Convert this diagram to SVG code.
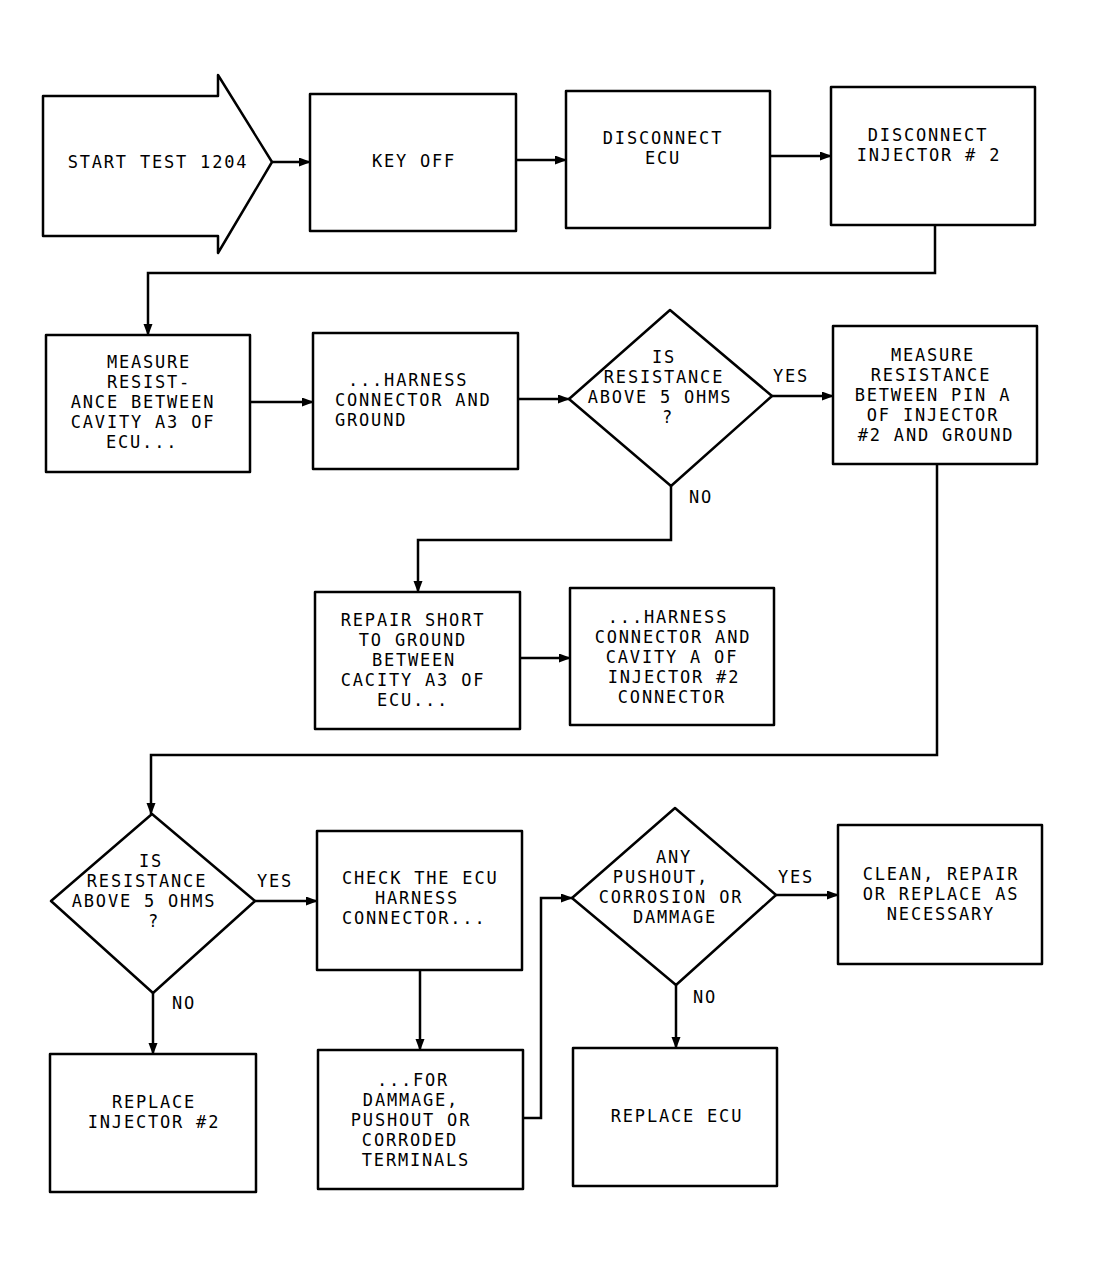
<svg xmlns="http://www.w3.org/2000/svg" width="1098" height="1275" viewBox="0 0 1098 1275">
<style>
.n{fill:#fff;stroke:#000;stroke-width:2.5;stroke-linejoin:round}
.c{fill:none;stroke:#000;stroke-width:2.5}
text{font-family:"DejaVu Sans Mono","Liberation Mono",monospace;font-size:17px;letter-spacing:1.8px;fill:#000}
.m{text-anchor:middle}
</style>
<defs>
<marker id="ah" markerUnits="userSpaceOnUse" markerWidth="12" markerHeight="10" refX="11" refY="4.5" orient="auto">
<path d="M0,0 L12,4.5 L0,9 z" fill="#000"/>
</marker>
</defs>
<rect width="1098" height="1275" fill="#fff"/>
<g id="connectors">
<path class="c" d="M272,162 H310" marker-end="url(#ah)"/>
<path class="c" d="M516,160 H566" marker-end="url(#ah)"/>
<path class="c" d="M770,156 H831" marker-end="url(#ah)"/>
<path class="c" d="M935,225 V273 H148 V335" marker-end="url(#ah)"/>
<path class="c" d="M250,402 H313" marker-end="url(#ah)"/>
<path class="c" d="M518,399 H569" marker-end="url(#ah)"/>
<path class="c" d="M772,396 H833" marker-end="url(#ah)"/>
<path class="c" d="M671,486 V540 H418 V592" marker-end="url(#ah)"/>
<path class="c" d="M520,658 H570" marker-end="url(#ah)"/>
<path class="c" d="M937,464 V755 H151 V814" marker-end="url(#ah)"/>
<path class="c" d="M255,901 H317" marker-end="url(#ah)"/>
<path class="c" d="M153,993 V1054" marker-end="url(#ah)"/>
<path class="c" d="M420,970 V1050" marker-end="url(#ah)"/>
<path class="c" d="M523,1118 H541 V898 H572" marker-end="url(#ah)"/>
<path class="c" d="M776,895 H838" marker-end="url(#ah)"/>
<path class="c" d="M676,985 V1048" marker-end="url(#ah)"/>
<text x="791" y="382" class="m">YES</text>
<text x="689" y="503">NO</text>
<text x="275" y="887" class="m">YES</text>
<text x="172" y="1009">NO</text>
<text x="796" y="883" class="m">YES</text>
<text x="693" y="1003">NO</text>
</g>
<g id="start">
<polygon class="n" points="43,96 218,96 218,75 272,162 218,253 218,236 43,236"/>
<text x="158" y="168" class="m">START TEST 1204</text>
</g>
<g id="keyoff">
<rect class="n" x="310" y="94" width="206" height="137"/>
<text x="414" y="167" class="m">KEY OFF</text>
</g>
<g id="discecu">
<rect class="n" x="566" y="91" width="204" height="137"/>
<text x="663" y="144" class="m">DISCONNECT</text>
<text x="663" y="164" class="m">ECU</text>
</g>
<g id="discinj">
<rect class="n" x="831" y="87" width="204" height="138"/>
<text x="928" y="141" class="m">DISCONNECT</text>
<text x="929" y="161" class="m">INJECTOR # 2</text>
</g>
<g id="measure1">
<rect class="n" x="46" y="335" width="204" height="137"/>
<text x="149" y="368" class="m">MEASURE</text>
<text x="149" y="388" class="m">RESIST-</text>
<text x="143" y="408" class="m">ANCE BETWEEN</text>
<text x="143" y="428" class="m">CAVITY A3 OF</text>
<text x="106" y="448">ECU...</text>
</g>
<g id="harness1">
<rect class="n" x="313" y="333" width="205" height="136"/>
<text x="348" y="386">...HARNESS</text>
<text x="335" y="406">CONNECTOR AND</text>
<text x="335" y="426">GROUND</text>
</g>
<g id="decision1">
<polygon class="n" points="670,310 772,396 671,486 569,399"/>
<text x="664" y="363" class="m">IS</text>
<text x="664" y="383" class="m">RESISTANCE</text>
<text x="660" y="403" class="m">ABOVE 5 OHMS</text>
<text x="668" y="423" class="m">?</text>
</g>
<g id="measure2">
<rect class="n" x="833" y="326" width="204" height="138"/>
<text x="933" y="361" class="m">MEASURE</text>
<text x="931" y="381" class="m">RESISTANCE</text>
<text x="933" y="401" class="m">BETWEEN PIN A</text>
<text x="933" y="421" class="m">OF INJECTOR</text>
<text x="936" y="441" class="m">#2 AND GROUND</text>
</g>
<g id="repair">
<rect class="n" x="315" y="592" width="205" height="137"/>
<text x="413" y="626" class="m">REPAIR SHORT</text>
<text x="413" y="646" class="m">TO GROUND</text>
<text x="414" y="666" class="m">BETWEEN</text>
<text x="413" y="686" class="m">CACITY A3 OF</text>
<text x="413" y="706" class="m">ECU...</text>
</g>
<g id="harness2">
<rect class="n" x="570" y="588" width="204" height="137"/>
<text x="668" y="623" class="m">...HARNESS</text>
<text x="673" y="643" class="m">CONNECTOR AND</text>
<text x="672" y="663" class="m">CAVITY A OF</text>
<text x="674" y="683" class="m">INJECTOR #2</text>
<text x="672" y="703" class="m">CONNECTOR</text>
</g>
<g id="decision2">
<polygon class="n" points="152,814 255,901 153,993 51,901"/>
<text x="151" y="867" class="m">IS</text>
<text x="147" y="887" class="m">RESISTANCE</text>
<text x="144" y="907" class="m">ABOVE 5 OHMS</text>
<text x="154" y="927" class="m">?</text>
</g>
<g id="check">
<rect class="n" x="317" y="831" width="205" height="139"/>
<text x="342" y="884">CHECK THE ECU</text>
<text x="417" y="904" class="m">HARNESS</text>
<text x="342" y="924">CONNECTOR...</text>
</g>
<g id="replaceinj">
<rect class="n" x="50" y="1054" width="206" height="138"/>
<text x="154" y="1108" class="m">REPLACE</text>
<text x="154" y="1128" class="m">INJECTOR #2</text>
</g>
<g id="forbox">
<rect class="n" x="318" y="1050" width="205" height="139"/>
<text x="413" y="1086" class="m">...FOR</text>
<text x="411" y="1106" class="m">DAMMAGE,</text>
<text x="411" y="1126" class="m">PUSHOUT OR</text>
<text x="410" y="1146" class="m">CORRODED</text>
<text x="416" y="1166" class="m">TERMINALS</text>
</g>
<g id="decision3">
<polygon class="n" points="675,808 776,895 676,985 572,898"/>
<text x="674" y="863" class="m">ANY</text>
<text x="661" y="883" class="m">PUSHOUT,</text>
<text x="671" y="903" class="m">CORROSION OR</text>
<text x="675" y="923" class="m">DAMMAGE</text>
</g>
<g id="clean">
<rect class="n" x="838" y="825" width="204" height="139"/>
<text x="941" y="880" class="m">CLEAN, REPAIR</text>
<text x="941" y="900" class="m">OR REPLACE AS</text>
<text x="941" y="920" class="m">NECESSARY</text>
</g>
<g id="replaceecu">
<rect class="n" x="573" y="1048" width="204" height="138"/>
<text x="677" y="1122" class="m">REPLACE ECU</text>
</g>
</svg>
